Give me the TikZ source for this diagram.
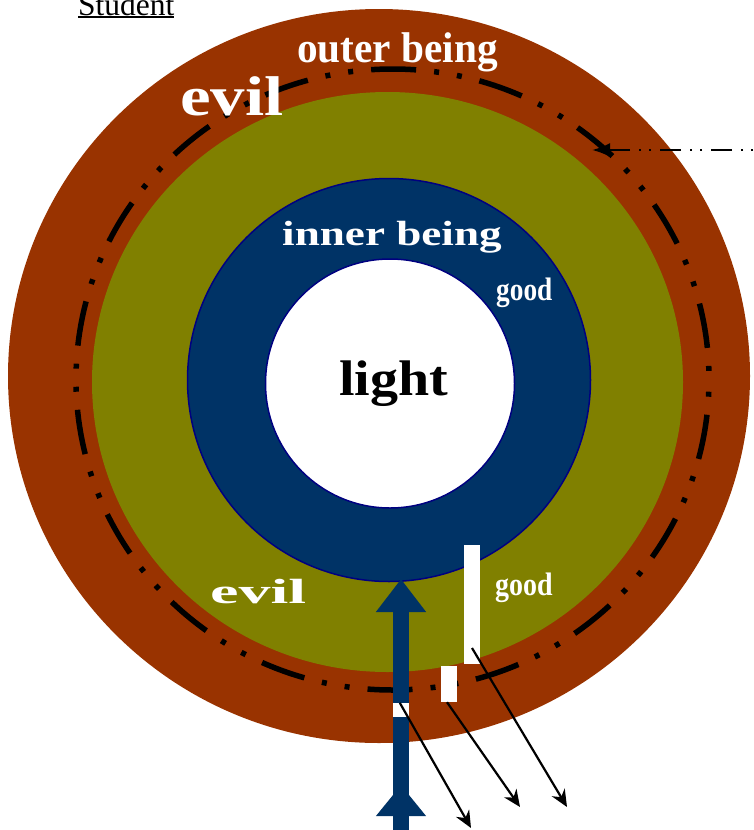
\documentclass[tikz,border=0pt]{standalone}
\usepackage{fontspec}
\setmainfont{Liberation Serif}
\usetikzlibrary{arrows.meta}
\definecolor{rust}{HTML}{993300}
\definecolor{olivefill}{HTML}{808000}
\definecolor{navyfill}{HTML}{003366}
\definecolor{navyline}{HTML}{000080}
\newcommand\ulword[1]{\setbox0\hbox{#1}\rlap{\rule[-3pt]{\wd0}{1.8pt}}\box0}
\newcommand\lblsize[2]{\fontsize{#1}{#1}\selectfont\scalebox{#2}[1]}

\begin{document}
\begin{tikzpicture}[x=1pt, y=-1pt,
		lbl/.style={anchor=base west, inner sep=0pt, text=white, font=\bfseries},
		bar/.style={fill=white, inner sep=0pt, minimum width=16pt},
		pointer/.style={-{Stealth[length=17pt,width=15pt]}, line width=2.2pt},
		bigarrow/.style={navyfill, line width=16pt}]
		\useasboundingbox (0,0) rectangle (753,830);
		\fill[rust] (379,376) ellipse [x radius=371, y radius=367];
		\fill[olivefill] (387.5,382) ellipse [x radius=295.5, y radius=290];
		\draw[line width=5.5pt, dash pattern=on 45pt off 18.1pt on 5pt off 18.1pt on 5pt off 18.1pt, dash phase=74pt] (392.5,379.5) ellipse [x radius=316.5, y radius=310.5];
		\draw[navyline, line width=1.5pt, fill=navyfill] (389,380) circle [radius=201.5];
		\draw[navyline, line width=1.5pt, fill=white] (390,383.5) circle [radius=124.5];
		
		\node[anchor=base west, inner sep=0pt, font=\fontsize{31.5}{34}\selectfont] (student) at (78,15) {\ulword{Student}};
		\node[lbl] (outer) at (297,62) {\lblsize{43}{0.96}{outer being}};
		\node[lbl] (evilout) at (180,115) {\lblsize{56}{1.23}{evil}};
		\node[lbl] (inner) at (282,245) {\lblsize{35}{1.29}{inner being}};
		\node[lbl] (goodin) at (496,300) {\lblsize{32.5}{0.84}{good}};
		\node[lbl, text=black] (light) at (339,395) {\lblsize{50}{1.12}{light}};
		\node[lbl] (evilin) at (210,603) {\lblsize{35}{1.83}{evil}};
		\node[lbl] (goodout) at (495,595) {\lblsize{32.5}{0.86}{good}};
		
		\coordinate (tail) at (401,840);
		\coordinate (tip) at (401,579);
		\coordinate (midtip) at (401,785);
		\draw[bigarrow, -{Triangle[length=33pt,width=48pt]}] (tail) -- (tip);
		\draw[bigarrow, -{Triangle[length=31pt,width=48pt]}] (tail) -- (midtip);
		
		\node[bar, minimum height=14pt] (gap) at (401,710) {};
		\node[bar, minimum height=119pt] (tallbar) at (472,604.5) {};
		\node[bar, minimum height=36pt] (shortbar) at (449,684) {};
		
		\coordinate (out1) at (471,828);
		\coordinate (out2) at (520,807);
		\coordinate (out3) at (567,807);
		\draw[pointer] (gap.north west) ++(7,0) -- (out1);
		\draw[pointer] (shortbar.south) ++(-2,0) -- (out2);
		\draw[pointer] (tallbar.center) ++(0,43.5) -- (out3);
		
		\coordinate (farend) at (753,150);
		\coordinate (ringhit) at (592,150);
		\draw[line width=2.5pt, dash pattern=on 2pt off 8pt on 2pt off 9pt on 21pt off 9pt, -{Latex[length=18pt,width=14pt]}] (farend) -- (ringhit);
	\end{tikzpicture}
\end{document}
